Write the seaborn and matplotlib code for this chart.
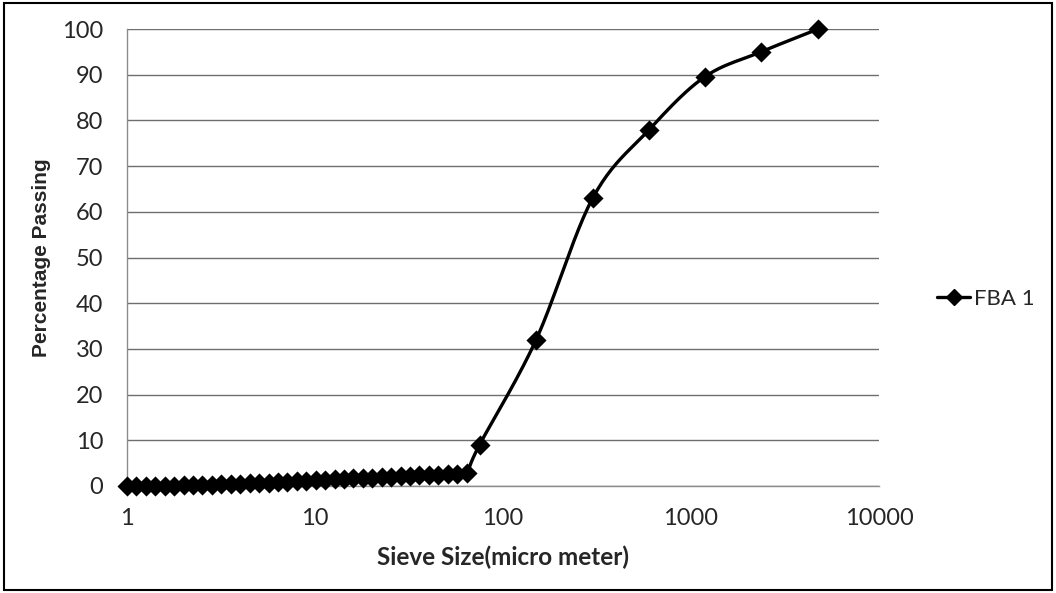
import numpy as np
import pandas as pd
import matplotlib
matplotlib.use("Agg")
import matplotlib.pyplot as plt
from matplotlib.lines import Line2D
from matplotlib.patches import Rectangle
import seaborn as sns

# ---- data ----
fine_sizes = [1.0, 1.12, 1.26, 1.41, 1.59, 1.78, 2.0, 2.24, 2.52, 2.83, 3.17, 3.56,
              4.0, 4.49, 5.04, 5.66, 6.35, 7.13, 8.0, 8.98, 10.08, 11.31, 12.7, 14.25,
              16.0, 17.96, 20.16, 22.63, 25.4, 28.51, 32.0, 35.92, 40.32, 45.25, 50.8,
              57.02, 64.0]
fine_pass = [0.0, 0.0, 0.0, 0.05, 0.1, 0.1, 0.15, 0.2, 0.25, 0.3, 0.35, 0.4,
             0.5, 0.55, 0.65, 0.75, 0.85, 0.95, 1.05, 1.15, 1.25, 1.35, 1.45, 1.55,
             1.65, 1.75, 1.85, 1.95, 2.0, 2.1, 2.2, 2.3, 2.4, 2.5, 2.6, 2.7, 2.9]
sieve_sizes = [75, 150, 300, 600, 1180, 2360, 4750]
sieve_pass = [9.0, 32.0, 63.0, 78.0, 89.5, 95.0, 100.0]
series_name = "FBA 1"
x_label = "Sieve Size(micro meter)"
y_label = "Percentage Passing"

sizes = np.array(fine_sizes + sieve_sizes, dtype=float)
passing = np.array(fine_pass + sieve_pass, dtype=float)
df = pd.DataFrame({"size": sizes, "passing": passing})

sns.set_theme(style="white")
plt.rcParams["font.family"] = ["Lato", "DejaVu Sans"]

fig = plt.figure(figsize=(10.56, 5.93), dpi=100)
ax = fig.add_axes([127 / 1056, 1 - 486 / 593, (879 - 127) / 1056, (486 - 29) / 593])

# smooth curve (Excel-style Bezier) computed in screen-proportional space
W, H = 752.0, 457.0
u = np.log10(sizes) / 4 * W
v = passing / 100 * H
P = np.column_stack([u, v])
n = len(P)
curve = []
t = np.linspace(0, 1, 25)
for i in range(n - 1):
    p0 = P[i - 1] if i > 0 else P[i]
    p1 = P[i]
    p2 = P[i + 1]
    p3 = P[i + 2] if i + 2 < n else P[i + 1]
    c1 = p1 + (p2 - p0) / 6
    c2 = p2 - (p3 - p1) / 6
    seg = ((1 - t)[:, None] ** 3 * p1 + 3 * ((1 - t) ** 2 * t)[:, None] * c1
           + 3 * ((1 - t) * t ** 2)[:, None] * c2 + (t ** 3)[:, None] * p2)
    curve.append(seg if i == 0 else seg[1:])
curve = np.vstack(curve)
cx = 10 ** (curve[:, 0] / W * 4)
cy = curve[:, 1] / H * 100
curve_df = pd.DataFrame({"size": cx, "passing": cy})

sns.lineplot(data=curve_df, x="size", y="passing", sort=False, ax=ax,
             color="black", linewidth=2.4, zorder=3)
sns.scatterplot(data=df, x="size", y="passing", ax=ax, marker="D", s=105,
                color="black", edgecolor="black", linewidth=0, zorder=4,
                clip_on=False)

ax.set_xscale("log")
ax.set_xlim(1, 10000)
ax.set_ylim(0, 100)
ax.set_yticks(np.arange(0, 101, 10))
ax.set_xticks([1, 10, 100, 1000, 10000])
ax.set_xticklabels(["1", "10", "100", "1000", "10000"])
ax.minorticks_off()
ax.yaxis.grid(True, color="#6e6e6e", linewidth=1.0)
ax.xaxis.grid(False)
for s in ["top", "right"]:
    ax.spines[s].set_visible(False)
ax.spines["left"].set_color("#8c8c8c")
ax.spines["bottom"].set_color("#8c8c8c")
ax.spines["left"].set_linewidth(1.0)
ax.spines["bottom"].set_linewidth(1.0)
ax.tick_params(axis="y", length=0, pad=17, labelsize=17)
ax.tick_params(axis="x", length=0, pad=16, labelsize=17)
ax.set_xlabel(x_label, fontsize=17.5, fontweight="bold", labelpad=12)
ax.set_ylabel(y_label, fontsize=15, fontweight="bold", labelpad=8,
              family=["Liberation Sans", "DejaVu Sans"])

handle = Line2D([0], [0], color="black", linewidth=2.4, marker="D", markersize=8)
fig.legend([handle], [series_name], loc="center left",
           bbox_to_anchor=(937 / 1056, 1 - 299 / 593), frameon=False,
           fontsize=16, handlelength=1.5, handletextpad=0.15, borderaxespad=0,
           borderpad=0)

fig.patches.append(Rectangle((4 / 1056, 3 / 593), 1 - 8 / 1056, 1 - 6 / 593,
                             transform=fig.transFigure, fill=False,
                             edgecolor="black", linewidth=1.5))

fig.savefig("out.png", dpi=100)
